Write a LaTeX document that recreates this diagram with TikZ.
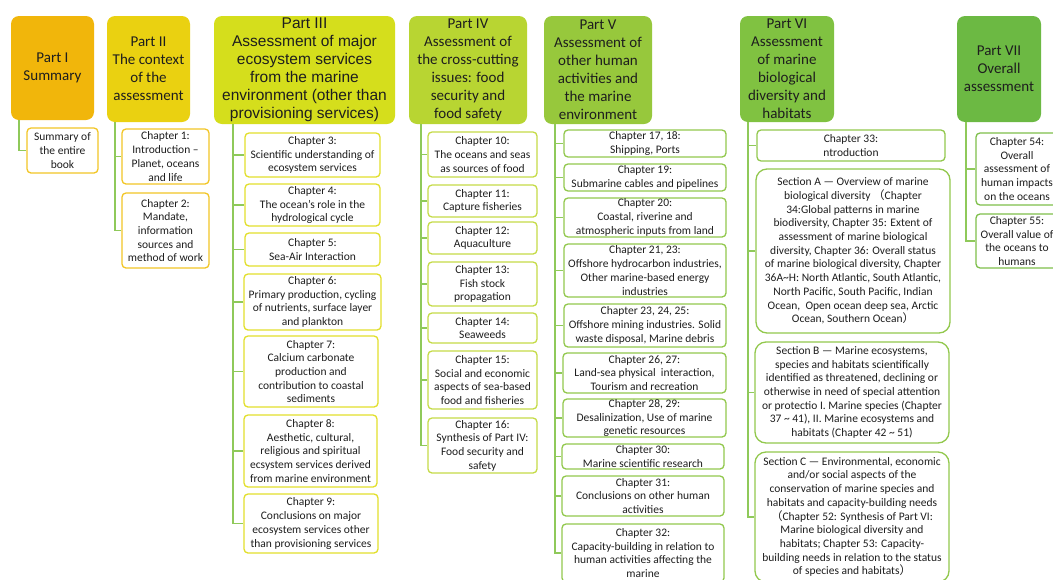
\documentclass[tikz,border=0pt]{standalone}
\usepackage{fontspec}
\setmainfont{Carlito}
\newfontfamily\arialfont{Liberation Sans}
\newfontfamily\cjkfont{Noto Sans CJK SC}
\newcommand{\lpar}{{\cjkfont （}}
\newcommand{\rpar}{{\cjkfont ）}}

\definecolor{partone}{HTML}{F1B60B}
\definecolor{parttwo}{HTML}{EAD111}
\definecolor{partthree}{HTML}{D5DE1C}
\definecolor{partfour}{HTML}{B8D532}
\definecolor{partfive}{HTML}{97C83C}
\definecolor{partsix}{HTML}{80C241}
\definecolor{partseven}{HTML}{6CB943}
\definecolor{goldline}{HTML}{F2C626}
\definecolor{yellowline}{HTML}{E2DF2C}
\definecolor{limeline}{HTML}{C5DB47}
\definecolor{greenline}{HTML}{92C84D}
\definecolor{darkline}{HTML}{7EBF4B}
\definecolor{linkgreen}{HTML}{8FC95A}
\definecolor{textgray}{HTML}{1E1E1E}

\tikzset{
  part/.style={rectangle, rounded corners=8pt, fill=#1, text=textgray, align=center,
    inner sep=0pt, font=\fontsize{15}{18}\selectfont},
  chap/.style={rectangle, rounded corners=4pt, draw=#1, line width=1.3pt, fill=white,
    text=textgray, align=center, inner sep=0pt, font=\fontsize{11.5}{13.7}\selectfont},
  sect/.style={chap=#1, rounded corners=11pt},
  link/.style={draw=linkgreen, line width=1.4pt},
}

\begin{document}
\begin{tikzpicture}[x=1pt, y=-1pt]
\useasboundingbox (0,0) rectangle (1053,579);
\clip (0,0) rectangle (1053,579);
\fill[white] (0,0) rectangle (1053,579);

% part headers
\node[part=partone, minimum width=83pt, minimum height=104pt] (p1) at (52.5,68) {Part I\\Summary};
\node[part=parttwo, minimum width=83pt, minimum height=106pt] (p2) at (148.5,69) {Part II\\The context\\of the\\assessment};
\node[part=partthree, minimum width=181pt, minimum height=108pt, font=\arialfont\fontsize{15.5}{18}\selectfont] (p3) at (304.5,70)
  {Part III\\Assessment of major\\ecosystem services\\from the marine\\environment (other than\\provisioning services)};
\node[part=partfour, minimum width=118pt, minimum height=108pt] (p4) at (468,70) {Part IV\\Assessment of\\the cross-cutting\\issues: food\\security and\\food safety};
\node[part=partfive, minimum width=108pt, minimum height=108pt] (p5) at (598,70) {Part V\\Assessment of\\other human\\activities and\\the marine\\environment};
\node[part=partsix, minimum width=94pt, minimum height=106pt] (p6) at (787,69) {Part VI\\Assessment\\of marine\\biological\\diversity and\\habitats};
\node[part=partseven, minimum width=84pt, minimum height=106pt] (p7) at (999,69) {Part VII\\Overall\\assessment};

% Part I and II
\node[chap=goldline, minimum width=71pt, minimum height=45pt] (s1) at (62.5,150.5) {Summary of\\the entire\\book};
\node[chap=goldline, minimum width=87pt, minimum height=55pt] (c1) at (165.5,156.5) {Chapter 1:\\Introduction –\\Planet, oceans\\and life};
\node[chap=goldline, minimum width=87pt, minimum height=75pt] (c2) at (165.5,230.5) {Chapter 2:\\Mandate,\\information\\sources and\\method of work};

% Part III
\node[chap=yellowline, minimum width=135pt, minimum height=44pt] (c3) at (312.5,155) {Chapter 3:\\Scientific understanding of\\ecosystem services};
\node[chap=yellowline, minimum width=135pt, minimum height=42pt] (c4) at (312.5,205) {Chapter 4:\\The ocean’s role in the\\hydrological cycle};
\node[chap=yellowline, minimum width=135pt, minimum height=33pt] (c5) at (312.5,249.5) {Chapter 5:\\Sea-Air Interaction};
\node[chap=yellowline, minimum width=137pt, minimum height=56pt] (c6) at (312.5,302) {Chapter 6:\\Primary production, cycling\\of nutrients, surface layer\\and plankton};
\node[chap=yellowline, minimum width=134pt, minimum height=71pt] (c7) at (311,371.5) {Chapter 7:\\Calcium carbonate\\production and\\contribution to coastal\\sediments};
\node[chap=yellowline, minimum width=133pt, minimum height=72pt] (c8) at (310.5,451) {Chapter 8:\\Aesthetic, cultural,\\religious and spiritual\\ecsystem services derived\\from marine environment};
\node[chap=yellowline, minimum width=134pt, minimum height=59pt] (c9) at (311,523.5) {Chapter 9:\\Conclusions on major\\ecosystem services other\\than provisioning services};

% Part IV
\node[chap=limeline, minimum width=109pt, minimum height=45pt] (c10) at (482.5,154.5) {Chapter 10:\\The oceans and seas\\as sources of food};
\node[chap=limeline, minimum width=109pt, minimum height=32pt] (c11) at (482.5,201) {Chapter 11:\\Capture fisheries};
\node[chap=limeline, minimum width=109pt, minimum height=32pt] (c12) at (482.5,238) {Chapter 12:\\Aquaculture};
\node[chap=limeline, minimum width=109pt, minimum height=44pt] (c13) at (482.5,284) {Chapter 13:\\Fish stock\\propagation};
\node[chap=limeline, minimum width=109pt, minimum height=30pt] (c14) at (482.5,328) {Chapter 14:\\Seaweeds};
\node[chap=limeline, minimum width=109pt, minimum height=58pt] (c15) at (482.5,380) {Chapter 15:\\Social and economic\\aspects of sea-based\\food and fisheries};
\node[chap=limeline, minimum width=109pt, minimum height=55pt] (c16) at (482.5,445.5) {Chapter 16:\\Synthesis of Part IV:\\Food security and\\safety};

% Part V
\node[chap=greenline, minimum width=162pt, minimum height=27pt] (c17) at (645,143.5) {Chapter 17, 18:\\Shipping, Ports};
\node[chap=greenline, minimum width=162pt, minimum height=27pt] (c19) at (645,177.5) {Chapter 19:\\Submarine cables and pipelines};
\node[chap=greenline, minimum width=162pt, minimum height=39pt] (c20) at (645,217.5) {Chapter 20:\\Coastal, riverine and\\atmospheric inputs from land};
\node[chap=greenline, minimum width=162pt, minimum height=53pt] (c21) at (645,270.5) {Chapter 21, 23:\\Offshore hydrocarbon industries,\\Other marine-based energy\\industries};
\node[chap=greenline, minimum width=162pt, minimum height=43pt] (c23) at (645,325.5) {Chapter 23, 24, 25:\\Offshore mining industries. Solid\\waste disposal, Marine debris};
\node[chap=greenline, minimum width=163pt, minimum height=40pt] (c26) at (644.5,373) {Chapter 26, 27:\\Land-sea physical\ \ interaction,\\Tourism and recreation};
\node[chap=greenline, minimum width=163pt, minimum height=38pt] (c28) at (644.5,418) {Chapter 28, 29:\\Desalinization, Use of marine\\genetic resources};
\node[chap=greenline, minimum width=162pt, minimum height=25pt] (c30) at (643,456.5) {Chapter 30:\\Marine scientific research};
\node[chap=greenline, minimum width=162pt, minimum height=40pt] (c31) at (643,496) {Chapter 31:\\Conclusions on other human\\activities};
\node[chap=greenline, minimum width=162pt, minimum height=58pt] (c32) at (643,553) {Chapter 32:\\Capacity-building in relation to\\human activities affecting the\\marine};

% Part VI
\node[chap=greenline, minimum width=188pt, minimum height=31pt] (c33) at (851,145.5) {Chapter 33:\\ntroduction};
\node[sect=greenline, minimum width=194pt, minimum height=164pt] (sa) at (853,251)
  {Section A — Overview of marine\\biological diversity \lpar Chapter\\34:Global patterns in marine\\biodiversity, Chapter 35: Extent of\\assessment of marine biological\\diversity, Chapter 36: Overall status\\of marine biological diversity, Chapter\\36A\textasciitilde H: North Atlantic, South Atlantic,\\North Pacific, South Pacific, Indian\\Ocean,\ \ Open ocean deep sea, Arctic\\Ocean, Southern Ocean\rpar};
\node[sect=greenline, minimum width=194pt, minimum height=101pt] (sb) at (852,392.5)
  {Section B — Marine ecosystems,\\species and habitats scientifically\\identified as threatened, declining or\\otherwise in need of special attention\\or protectio I. Marine species (Chapter\\37 \textasciitilde{} 41), II. Marine ecosystems and\\habitats (Chapter 42 \textasciitilde{} 51)};
\node[sect=greenline, minimum width=194pt, minimum height=130pt] (sc) at (852,517)
  {Section C — Environmental, economic\\and/or social aspects of the\\conservation of marine species and\\habitats and capacity-building needs\\\lpar Chapter 52: Synthesis of Part VI:\\Marine biological diversity and\\habitats; Chapter 53: Capacity-\\building needs in relation to the status\\of species and habitats\rpar};

% Part VII
\node[chap=darkline, minimum width=82pt, minimum height=72pt] (c54) at (1017,169) {Chapter 54:\\Overall\\assessment of\\human impacts\\on the oceans};
\node[chap=darkline, minimum width=82pt, minimum height=54pt] (c55) at (1017,241) {Chapter 55:\\Overall value of\\the oceans to\\humans};

% connectors
\draw[link] ([xshift=8pt]p1.south west) |- (s1.west);
\foreach \c in {c1,c2}
  \draw[link] ([xshift=8pt]p2.south west) |- (\c.west);
\foreach \c in {c3,c4,c5,c6,c7,c8,c9}
  \draw[link] ([xshift=19pt]p3.south west) |- (\c.west);
\foreach \c in {c10,c11,c12,c13,c14,c15,c16}
  \draw[link] ([xshift=12pt]p4.south west) |- (\c.west);
\foreach \c in {c17,c19,c20,c21,c23,c26,c28,c30,c31,c32}
  \draw[link] ([xshift=11pt]p5.south west) |- (\c.west);
\foreach \c in {c33,sa,sb,sc}
  \draw[link] ([xshift=8pt]p6.south west) |- (\c.west);
\foreach \c in {c54,c55}
  \draw[link] ([xshift=9pt]p7.south west) |- (\c.west);
\end{tikzpicture}
\end{document}
